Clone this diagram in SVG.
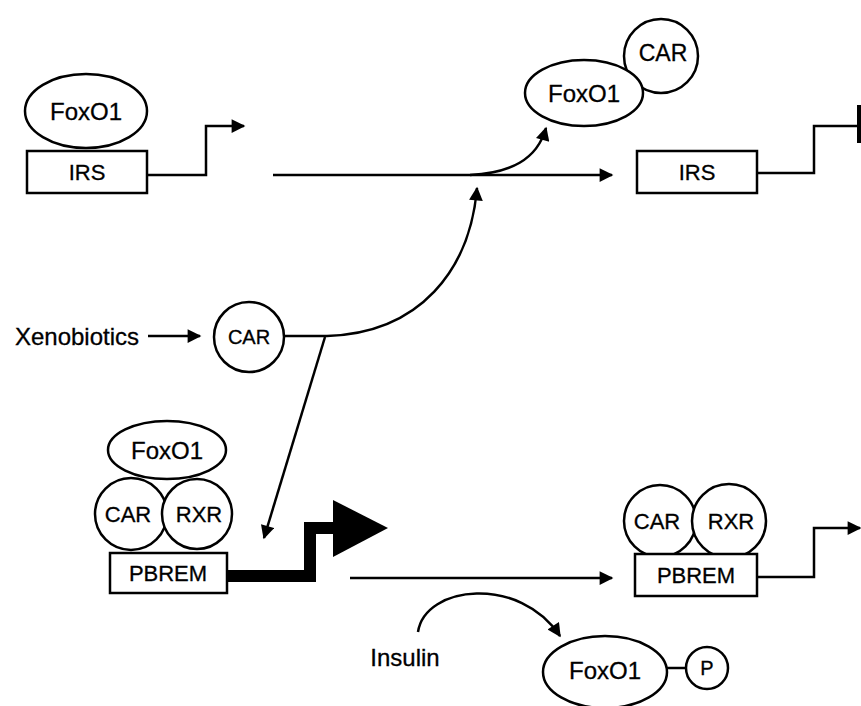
<svg xmlns="http://www.w3.org/2000/svg" width="861" height="706" viewBox="0 0 861 706">
<defs>
<style>
.sh{fill:#fff;stroke:#000;stroke-width:2.5}
.ln{fill:none;stroke:#000;stroke-width:2.5}
.t{font-family:"Liberation Sans",Arial,sans-serif;font-size:24px;fill:#000;stroke:#000;stroke-width:0.3;text-anchor:middle;dominant-baseline:central}
</style>
<marker id="ah" viewBox="0 0 10 10" refX="9" refY="5" markerWidth="6.5" markerHeight="5.5" markerUnits="strokeWidth" orient="auto">
<path d="M0,0 L10,5 L0,10 Z" fill="#000"/>
</marker>
</defs>
<rect width="861" height="706" fill="#fff"/>
<g id="connectors">
<path class="ln" d="M147,175 H206 V126 H244" marker-end="url(#ah)"/>
<path class="ln" d="M273,175 H612" marker-end="url(#ah)"/>
<path class="ln" d="M470,175 C510,173 537,160 546,128" marker-end="url(#ah)"/>
<path class="ln" d="M284,336 H327 C420,333 470,270 477,188" marker-end="url(#ah)"/>
<path class="ln" d="M325,337 L264,538" marker-end="url(#ah)"/>
<path class="ln" d="M148,336 H200" marker-end="url(#ah)"/>
<path class="ln" d="M757,173 H814 V126 H859"/>
<path d="M859,105 V143" stroke="#000" stroke-width="4"/>
<path fill="none" stroke="#000" stroke-width="12" d="M227,576 H310 V528 H336"/>
<path d="M333,500 L388,528 L333,557 Z" fill="#000"/>
<path class="ln" d="M350,578 H612" marker-end="url(#ah)"/>
<path class="ln" d="M757,577 H814 V528 H860" marker-end="url(#ah)"/>
<path class="ln" d="M418,632 C425,585 520,575 560,636" marker-end="url(#ah)"/>
<path class="ln" d="M667,668 H686"/>
</g>
<g id="foxo1-irs-left">
<ellipse class="sh" cx="86" cy="111" rx="61" ry="37"/>
<text class="t" x="86" y="111">FoxO1</text>
<rect class="sh" x="27" y="151" width="120" height="42"/>
<text class="t" x="87" y="172" style="font-size:22px">IRS</text>
</g>
<g id="car-foxo1-top">
<circle class="sh" cx="661" cy="56" r="37"/>
<text class="t" x="663" y="53" style="font-size:23px">CAR</text>
<ellipse class="sh" cx="584" cy="93" rx="59" ry="33"/>
<text class="t" x="584" y="93">FoxO1</text>
</g>
<g id="irs-right">
<rect class="sh" x="637" y="151" width="120" height="42"/>
<text class="t" x="697" y="172" style="font-size:22px">IRS</text>
</g>
<g id="xenobiotics">
<text class="t" x="77" y="336">Xenobiotics</text>
</g>
<g id="car-mid">
<circle class="sh" cx="249" cy="337" r="35"/>
<text class="t" x="249" y="337" style="font-size:20px">CAR</text>
</g>
<g id="complex-left">
<ellipse class="sh" cx="167" cy="450" rx="59" ry="29"/>
<text class="t" x="167" y="450">FoxO1</text>
<circle class="sh" cx="131" cy="514" r="36"/>
<circle class="sh" cx="197" cy="514" r="35"/>
<text class="t" x="128" y="514" style="font-size:22px">CAR</text>
<text class="t" x="199" y="514" style="font-size:22px">RXR</text>
<rect class="sh" x="110" y="553" width="117" height="40"/>
<text class="t" x="168" y="573" style="font-size:22px">PBREM</text>
</g>
<g id="complex-right">
<circle class="sh" cx="660" cy="521" r="36"/>
<circle class="sh" cx="729" cy="521" r="37"/>
<text class="t" x="657" y="521" style="font-size:22px">CAR</text>
<text class="t" x="731" y="521" style="font-size:22px">RXR</text>
<rect class="sh" x="635" y="554" width="122" height="42"/>
<text class="t" x="696" y="575" style="font-size:22px">PBREM</text>
</g>
<g id="insulin">
<text class="t" x="405" y="657">Insulin</text>
</g>
<g id="foxo1-p">
<ellipse class="sh" cx="605" cy="672" rx="62" ry="36"/>
<text class="t" x="605" y="670">FoxO1</text>
<circle class="sh" cx="707" cy="668" r="21"/>
<text class="t" x="707" y="668" style="font-size:20px">P</text>
</g>
</svg>
